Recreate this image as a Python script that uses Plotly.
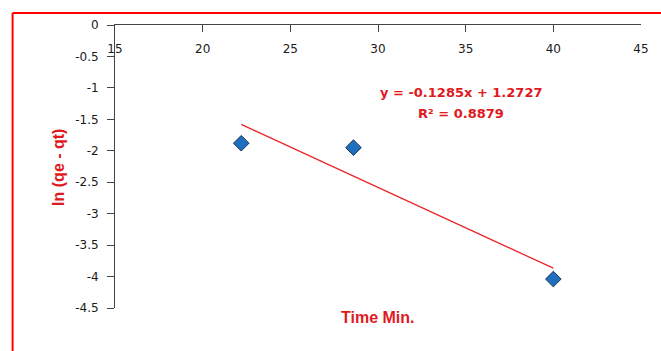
import plotly.graph_objects as go

# ---- data ----
time_min = [22.2, 28.6, 40.0]
ln_qe_qt = [-1.88, -1.95, -4.04]
trend_slope = -0.1285
trend_intercept = 1.2727
r_squared = 0.8879

x_ticks = [15, 20, 25, 30, 35, 40, 45]
y_ticks = [0, -0.5, -1, -1.5, -2, -2.5, -3, -3.5, -4, -4.5]
y_tick_text = ["0", "-0.5", "-1", "-1.5", "-2", "-2.5", "-3", "-3.5", "-4", "-4.5"]

x_title = "Time Min."
y_title = "ln (qe - qt)"
eq_line1 = "y = -0.1285x + 1.2727"
eq_line2 = "R² = 0.8879"

# ---- figure ----
W, H = 661, 351
ML, MR, MT, MB = 115, 17, 25, 43
RED = "#e0191e"
AX = "#444"

trend_x = [min(time_min), max(time_min)]
trend_y = [trend_slope * v + trend_intercept for v in trend_x]

fig = go.Figure()
fig.add_trace(go.Scatter(
    x=trend_x, y=trend_y, mode="lines",
    line=dict(color="#e8262a", width=1.3), hoverinfo="skip", showlegend=False))
fig.add_trace(go.Scatter(
    x=time_min, y=ln_qe_qt, mode="markers",
    marker=dict(symbol="diamond", size=12, color="#1f6fc0",
                line=dict(color="#1b3550", width=1)),
    showlegend=False))

pw = W - ML - MR
ph = H - MT - MB
left_border_x = (12 - ML) / pw
top_border_y = 1 + (MT - 13) / ph

fig.update_layout(
    width=W, height=H,
    margin=dict(l=ML, r=MR, t=MT, b=MB),
    paper_bgcolor="white", plot_bgcolor="white",
    font=dict(family="DejaVu Sans", size=12, color="#222"),
    xaxis=dict(
        range=[15, 45], tickvals=x_ticks, side="top",
        ticks="inside", ticklen=7, tickcolor=AX, tickwidth=1,
        ticklabelposition="inside", ticklabeloverflow="allow",
        ticklabelstandoff=12,
        showline=True, linecolor=AX, linewidth=1,
        showgrid=False, zeroline=False,
        tickfont=dict(family="DejaVu Sans", size=12, color="#1a1a1a"),
    ),
    yaxis=dict(
        range=[-4.5, 0], tickvals=y_ticks, ticktext=y_tick_text,
        ticks="outside", ticklen=7, tickcolor=AX, tickwidth=1,
        ticklabelstandoff=6,
        showline=True, linecolor=AX, linewidth=1,
        showgrid=False, zeroline=False,
        tickfont=dict(family="DejaVu Sans", size=12, color="#1a1a1a"),
    ),
    shapes=[
        dict(type="line", xref="paper", yref="paper",
             x0=left_border_x, x1=left_border_x, y0=-1, y1=top_border_y,
             line=dict(color="#ff0000", width=2)),
        dict(type="line", xref="paper", yref="paper",
             x0=left_border_x, x1=2, y0=top_border_y, y1=top_border_y,
             line=dict(color="#ff0000", width=2)),
    ],
    annotations=[
        dict(text=eq_line1, x=34.74, y=-1.067, xref="x", yref="y",
             showarrow=False, font=dict(family="DejaVu Sans", size=13, color=RED, weight="bold")),
        dict(text=eq_line2, x=34.74, y=-1.40, xref="x", yref="y",
             showarrow=False, font=dict(family="DejaVu Sans", size=13, color=RED, weight="bold")),
        dict(text=x_title, x=0.5, y=1 - (328 - MT) / ph, xref="paper", yref="paper",
             showarrow=False,
             font=dict(family="Liberation Sans", size=16, color=RED, weight="bold")),
        dict(text=y_title, x=(47 - ML) / pw, y=1 - (167 - MT) / ph, xref="paper", yref="paper",
             showarrow=False, textangle=-90,
             font=dict(family="Liberation Sans", size=16, color=RED, weight="bold")),
    ],
)

fig.write_html(
    "out.html",
    config={"displayModeBar": False},
    post_script="document.body.style.margin='0';document.body.style.overflow='hidden';",
)
